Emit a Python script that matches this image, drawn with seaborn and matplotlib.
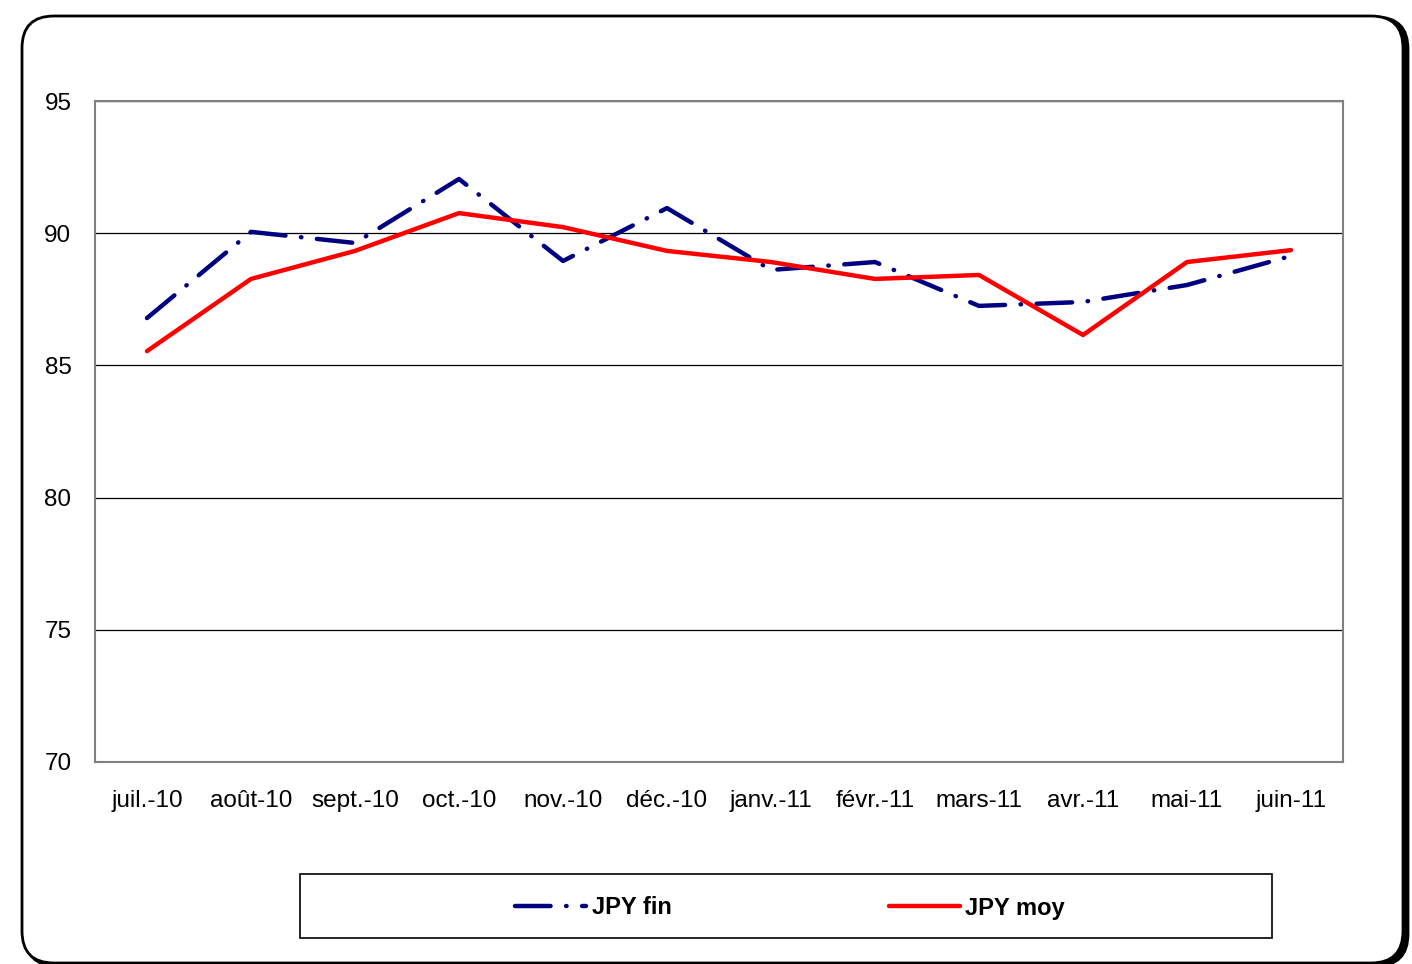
import pandas as pd
import seaborn as sns
from matplotlib import pyplot as plt
from matplotlib.patches import FancyBboxPatch, Rectangle
from matplotlib.transforms import IdentityTransform

# monthly JPY rates
months = ['juil.-10', 'août-10', 'sept.-10', 'oct.-10', 'nov.-10', 'déc.-10',
          'janv.-11', 'févr.-11', 'mars-11', 'avr.-11', 'mai-11', 'juin-11']
jpy_fin = [86.79, 90.05, 89.63, 92.05, 88.95, 90.95, 88.61, 88.91, 87.25, 87.40, 88.04, 89.14]
jpy_moy = [85.54, 88.27, 89.33, 90.76, 90.23, 89.33, 88.91, 88.27, 88.42, 86.15, 88.91, 89.36]
y_ticks = [70, 75, 80, 85, 90, 95]

df = pd.DataFrame({'pos': range(len(months)), 'JPY fin': jpy_fin, 'JPY moy': jpy_moy})

sns.set_style('white')
plt.rcParams['font.family'] = ['Liberation Sans', 'DejaVu Sans']
plt.rcParams['text.color'] = 'black'
plt.rcParams['xtick.color'] = 'black'
plt.rcParams['ytick.color'] = 'black'

fig = plt.figure(figsize=(14.12, 9.64), dpi=100)

# rounded outer frame with a little shadow, kept behind the axes
shadow = FancyBboxPatch((25, -2), 1383, 949, boxstyle='round,pad=0,rounding_size=32',
                        transform=IdentityTransform(), facecolor='black', edgecolor='black',
                        lw=2, zorder=-3)
frame = FancyBboxPatch((22, 1), 1381, 947, boxstyle='round,pad=0,rounding_size=32',
                       transform=IdentityTransform(), facecolor='white', edgecolor='black',
                       lw=2, zorder=-2)
fig.patches.extend([shadow, frame])

ax = fig.add_axes([95 / 1412, 1 - 762 / 964, 1248 / 1412, 661 / 964])
ax.set_facecolor('white')

sns.lineplot(data=df, x='pos', y='JPY fin', ax=ax, color='#000080', lw=3.2,
             dashes=False, label='JPY fin')
sns.lineplot(data=df, x='pos', y='JPY moy', ax=ax, color='#ff0000', lw=3.2,
             dashes=False, label='JPY moy')
fin_line = ax.lines[0]
fin_line.set_dashes((8, 3.5, 0.1, 3.5))
fin_line.set_dash_capstyle('round')

ax.set_xlim(-0.5, len(months) - 0.5)
ax.set_ylim(70, 95)
ax.set_yticks(y_ticks)
ax.set_yticklabels([str(v) for v in y_ticks], fontsize=17.5)
ax.set_xticks([i - 0.5 for i in range(len(months) + 1)])
ax.set_xticklabels([])
ax.set_xticks(range(len(months)), minor=True)
ax.set_xticklabels(months, minor=True, fontsize=17.5)
ax.tick_params(axis='x', which='major', length=7, width=1, color='#808080', direction='out')
ax.tick_params(axis='x', which='minor', length=0, pad=20)
ax.tick_params(axis='y', length=4, width=1, color='black', direction='out', pad=13)
ax.set_xlabel('')
ax.set_ylabel('')
ax.grid(axis='y', color='black', lw=0.9)
ax.grid(axis='x', visible=False)
ax.set_axisbelow(True)
for side in ['top', 'right', 'bottom', 'left']:
    ax.spines[side].set_color('#808080')
    ax.spines[side].set_linewidth(1.5)
ax.legend_.remove()

# legend box at the bottom
box = Rectangle((300 / 1412, 1 - 938 / 964), 972 / 1412, 64 / 964, transform=fig.transFigure,
                facecolor='white', edgecolor='black', lw=1.2)
fig.patches.append(box)
handles, labels = ax.get_legend_handles_labels()
fig.legend(handles, labels, loc='center', bbox_to_anchor=(790 / 1412, 1 - 908 / 964), ncol=2,
           frameon=False, prop={'weight': 'bold', 'size': 17}, handlelength=3.0,
           handletextpad=0.25, columnspacing=9.2)

fig.savefig('out.png', dpi=100)
